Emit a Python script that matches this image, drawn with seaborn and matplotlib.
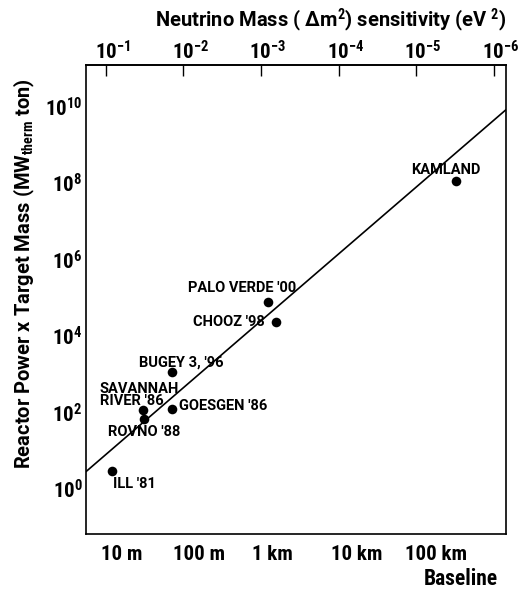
import numpy as np
import pandas as pd
import matplotlib
matplotlib.use("Agg")
import matplotlib.pyplot as plt
import matplotlib.transforms as mtransforms
from matplotlib import font_manager
import seaborn as sns

# Reactor neutrino experiments: baseline (m) vs reactor power x target mass (MW_th ton)
experiments = ["ILL '81", "SAVANNAH\nRIVER '86", "ROVNO '88", "GOESGEN '86",
               "BUGEY 3, '96", "PALO VERDE '00", "CHOOZ '98", "KAMLAND"]
baseline_m = [8.9, 22.0, 23.0, 53.0, 53.0, 905.0, 1150.0, 2.44e5]
power_mass = [2.96, 117.0, 69.0, 122.0, 1140.0, 7.9e4, 2.3e4, 1.19e8]

# label offsets from each point, in pixels (dx, dy)
label_dx = [1, -43, -36, 7, -33, -80, -83, -45]
label_dy = [-13, 15, -13, 3, 10, 14, 0, 11]

# sensitivity trend line endpoints
trend_L = [4.1, 1.07e6]
trend_Y = [2.84, 8.5e9]

# tick definitions
x_ticks = [10, 100, 1e3, 1e4, 1e5]
x_ticklabels = ["10 m", "100 m", "1 km", "10 km", "100 km"]
x_label_shift_px = [6, 5, 1, 8, 10]
y_ticks = [10.0 ** k for k in range(0, 11)]
y_ticklabels = [rf"$10^{{{k}}}$" if k % 2 == 0 else "" for k in range(0, 11)]
dm2_ticks = [1e-1, 1e-2, 1e-3, 1e-4, 1e-5, 1e-6]
dm2_ticklabels = [rf"$10^{{{-k}}}$" for k in range(1, 7)]
DM2_L = 0.74  # eV^2 * m, conversion between baseline and delta m^2

installed = {f.name for f in font_manager.fontManager.ttflist}
WIDE = next(f for f in ["Roboto", "Liberation Sans", "DejaVu Sans"] if f in installed)
NARROW = next(f for f in ["Roboto Condensed", "Liberation Sans Narrow", WIDE] if f in installed)

sns.set_theme(style="white")
plt.rcParams["font.family"] = [WIDE, "DejaVu Sans"]
plt.rcParams["font.weight"] = "bold"
plt.rcParams["text.color"] = "black"
plt.rcParams["axes.labelcolor"] = "black"
plt.rcParams["xtick.color"] = "black"
plt.rcParams["ytick.color"] = "black"
plt.rcParams["mathtext.fontset"] = "custom"
plt.rcParams["mathtext.rm"] = f"{NARROW}:bold"
plt.rcParams["mathtext.it"] = f"{NARROW}:bold"
plt.rcParams["mathtext.bf"] = f"{NARROW}:bold"
plt.rcParams["axes.edgecolor"] = "black"

df = pd.DataFrame({"experiment": experiments, "baseline": baseline_m, "pm": power_mass})
trend = pd.DataFrame({"baseline": trend_L, "pm": trend_Y})

fig = plt.figure(figsize=(5.29, 5.91), dpi=100)
ax = fig.add_axes([86 / 529, 1 - 534 / 591, 420 / 529, 469 / 591])

sns.lineplot(data=trend, x="baseline", y="pm", ax=ax, color="black", linewidth=1.2)
sns.scatterplot(data=df, x="baseline", y="pm", ax=ax, color="black", s=48,
                edgecolor="black", linewidth=0, zorder=3)

ax.set_xscale("log")
ax.set_yscale("log")
ax.set_xlim(4.1, 1.07e6)
ax.set_ylim(10 ** -1.18, 10 ** 11.1)

ax.set_xticks(x_ticks)
ax.set_xticklabels(x_ticklabels, family=NARROW, fontweight="bold", fontsize=15)
ax.set_yticks(y_ticks)
ax.set_yticklabels(y_ticklabels, fontsize=15)
ax.minorticks_off()
ax.tick_params(axis="both", which="major", direction="in", length=8, width=1.0,
               color="black")
ax.tick_params(axis="x", pad=8)
ax.tick_params(axis="y", pad=2.5)
for lbl, sh in zip(ax.get_xticklabels(), x_label_shift_px):
    lbl.set_transform(lbl.get_transform()
                      + mtransforms.ScaledTranslation(sh / 100, 0, fig.dpi_scale_trans))

for sp in ax.spines.values():
    sp.set_linewidth(1.2)
    sp.set_color("black")

ax.set_xlabel("")
ax.set_ylabel("")
fig.text(24 / 529, 1 - 274 / 591,
         r"Reactor Power x Target Mass (MW$_{\rm therm}$ ton)",
         rotation=90, ha="center", va="center", fontsize=14.5, fontweight="bold")

# Delta m^2 sensitivity axis on top
to_dm2 = lambda L: DM2_L / np.asarray(L, dtype=float)
sec = ax.secondary_xaxis("top", functions=(to_dm2, to_dm2))
sec.set_xticks(dm2_ticks)
sec.set_xticklabels(dm2_ticklabels, fontsize=15)
sec.minorticks_off()
sec.tick_params(direction="in", length=8, width=1.0, pad=1)
sec.spines["top"].set_linewidth(1.2)
shift_top = mtransforms.ScaledTranslation(7 / 100, 0, fig.dpi_scale_trans)
for lbl in sec.get_xticklabels():
    lbl.set_transform(lbl.get_transform() + shift_top)

for name, L, Y, dx, dy in zip(experiments, baseline_m, power_mass, label_dx, label_dy):
    ax.annotate(name, (L, Y), xytext=(dx, dy), textcoords="offset pixels",
                ha="left", va="center", fontsize=10.5, fontweight="bold",
                linespacing=0.8)

fig.text(507 / 529, 1 - 20 / 591,
         r"Neutrino Mass ( Δm$^{2}$) sensitivity (eV $^{2}$)",
         ha="right", va="center", fontsize=14.5, fontweight="bold")
fig.text(498 / 529, 1 - 579 / 591, "Baseline", ha="right", va="center",
         fontsize=15.5, fontweight="bold", family=NARROW)

fig.savefig("out.png", dpi=100, facecolor="white")
